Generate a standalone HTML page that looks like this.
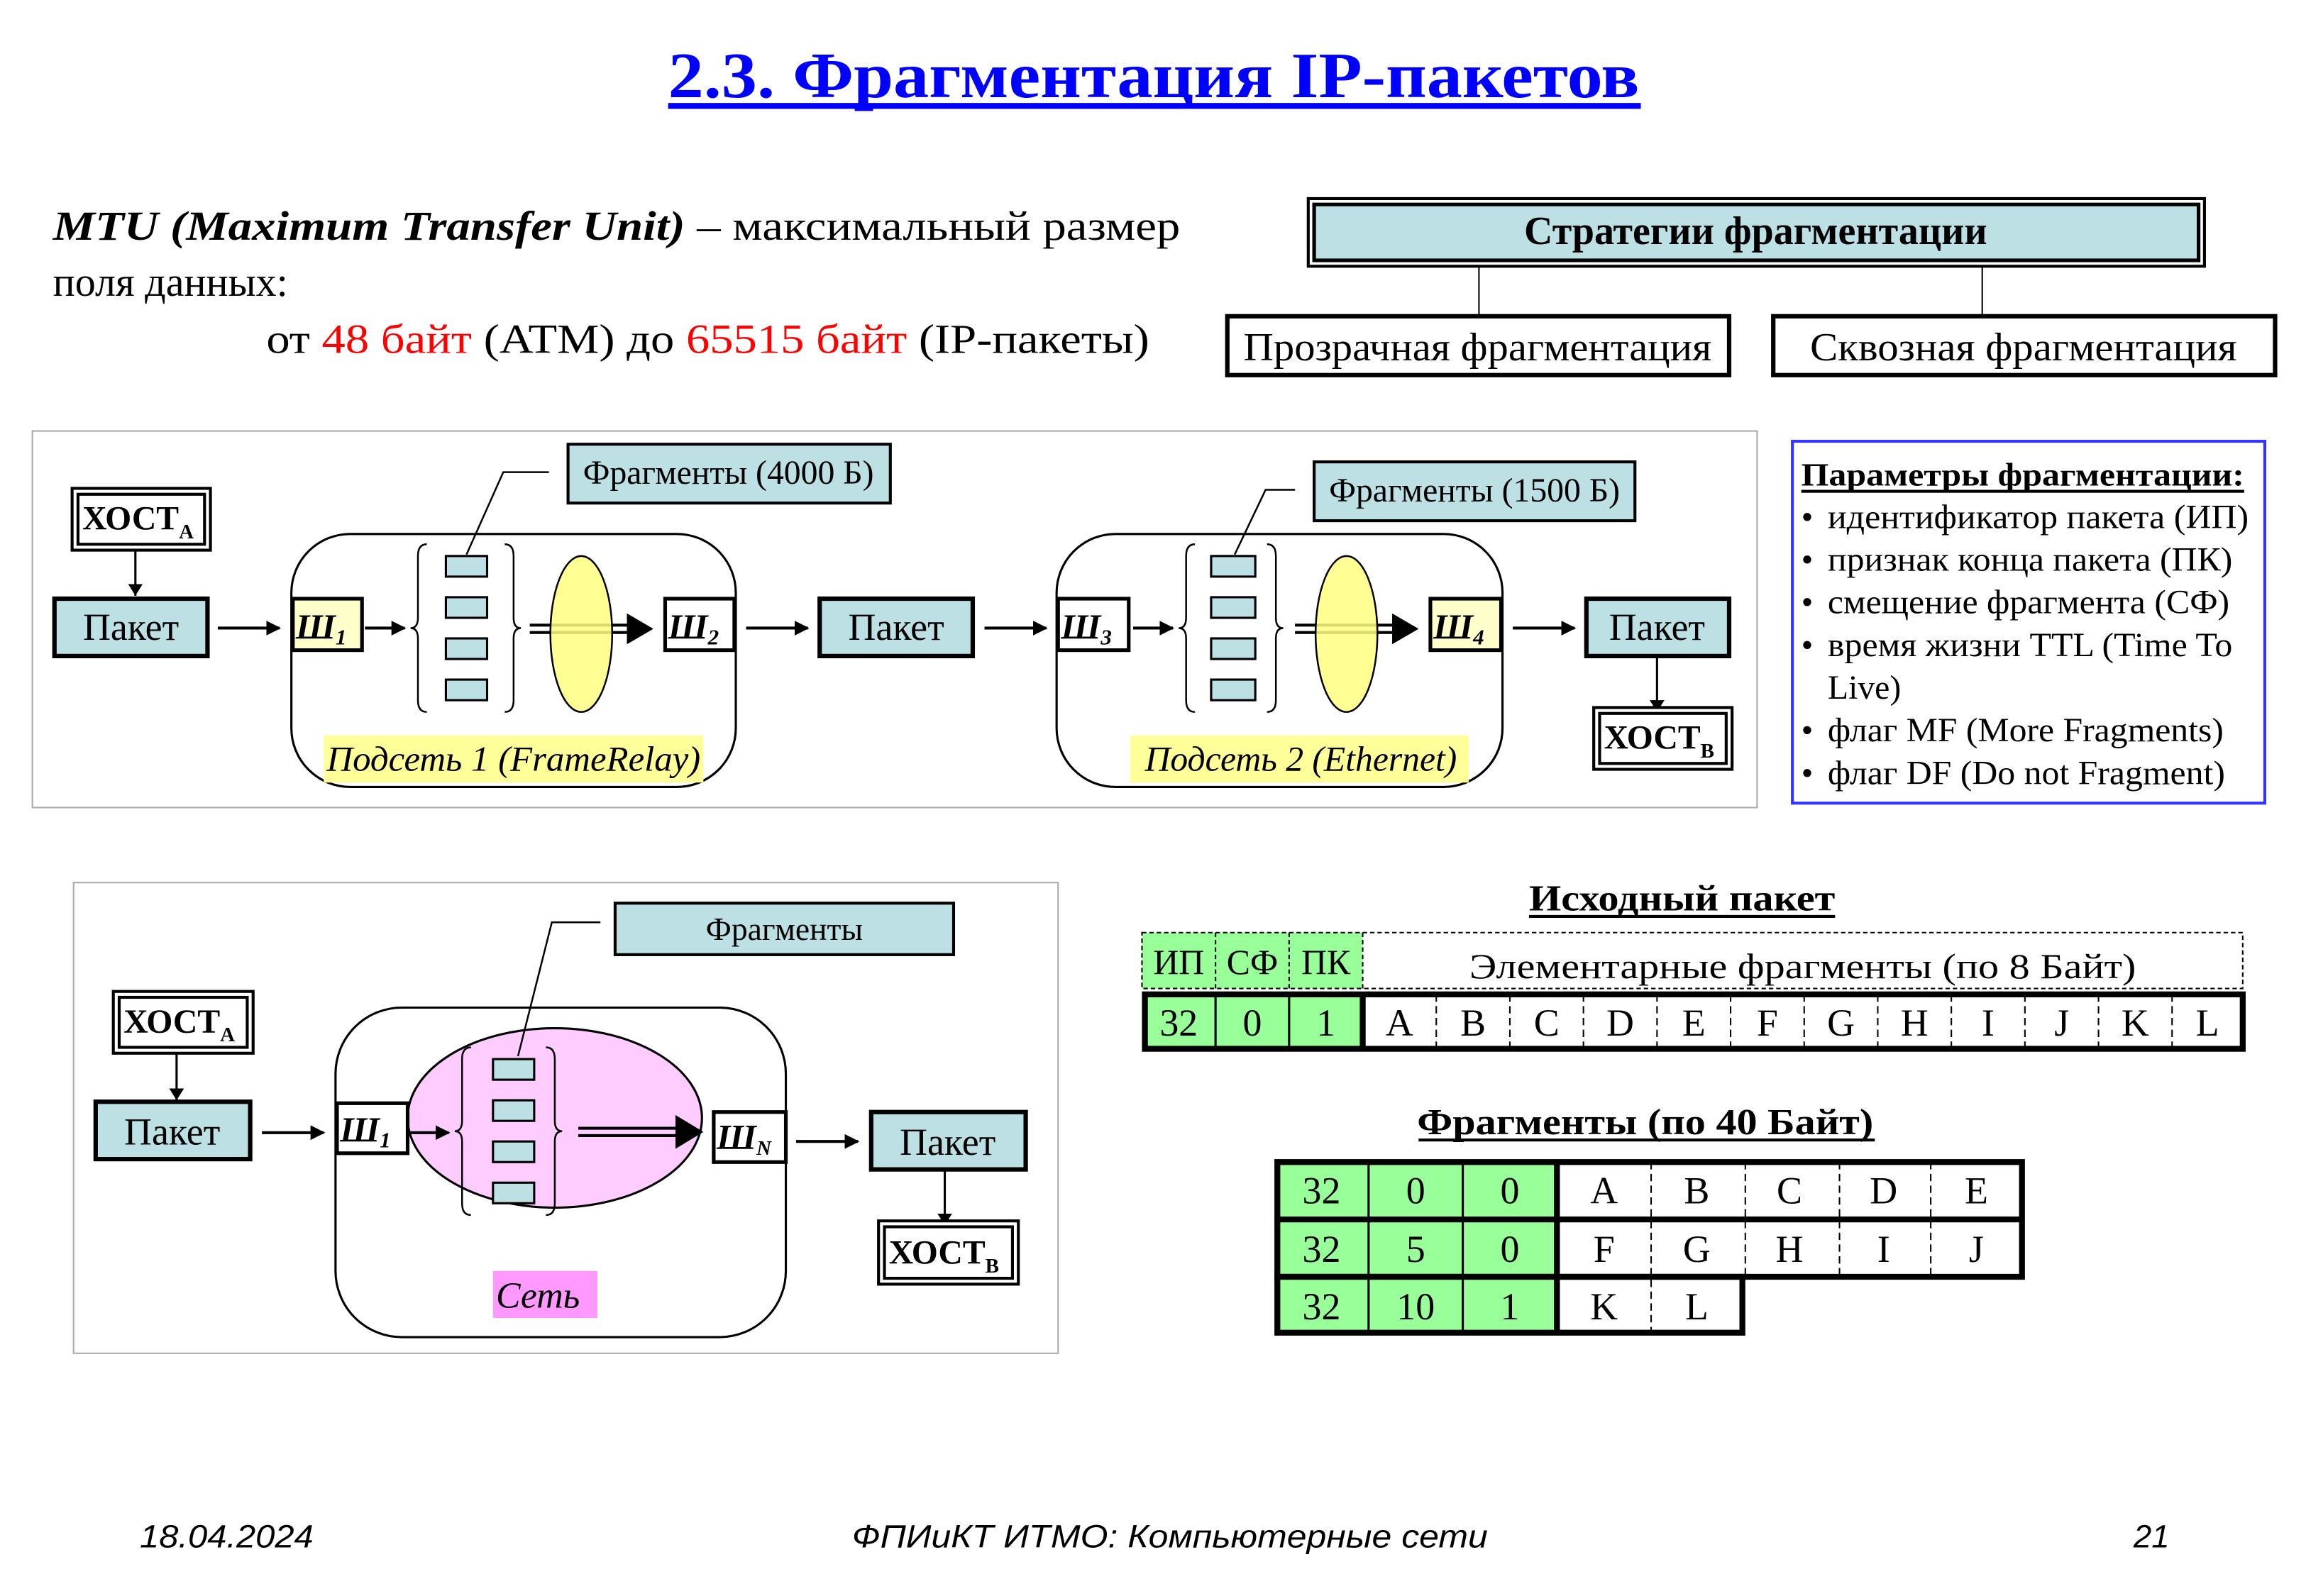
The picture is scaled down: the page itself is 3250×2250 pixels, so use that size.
<!DOCTYPE html>
<html><head><meta charset="utf-8"><style>
html,body{margin:0;padding:0;background:#fff;}
svg{display:block;}
text{font-family:"Liberation Serif","DejaVu Serif",serif;}
</style></head><body>
<svg xmlns="http://www.w3.org/2000/svg" width="3250" height="2250" viewBox="0 0 1567 1085" preserveAspectRatio="none">
<defs>
<marker id="ah" markerWidth="10" markerHeight="10" refX="9" refY="5" orient="auto" markerUnits="userSpaceOnUse"><path d="M0,0 L10,5 L0,10 z" fill="#000"/></marker>
<marker id="ahs" markerWidth="8" markerHeight="10" refX="8" refY="5" orient="auto" markerUnits="userSpaceOnUse"><path d="M0,0 L8,5 L0,10 z" fill="#000"/></marker>
</defs>
<rect width="1567" height="1085" fill="#fff"/>

<!-- Title -->
<text x="784" y="66" font-size="44" font-weight="bold" fill="#0000ff" text-anchor="middle" textLength="660" lengthAdjust="spacingAndGlyphs">2.3. Фрагментация IP-пакетов</text>
<rect x="454" y="70" width="661" height="4" fill="#0000ff"/>

<!-- MTU text -->
<text x="36" y="163" font-size="28" textLength="766" lengthAdjust="spacingAndGlyphs"><tspan font-weight="bold" font-style="italic">MTU (Maximum Transfer Unit)</tspan> – максимальный размер</text>
<text x="36" y="201" font-size="28">поля данных:</text>
<text x="181" y="240" font-size="28" textLength="600" lengthAdjust="spacingAndGlyphs">от <tspan fill="#ff0000">48 байт</tspan> (ATM) до <tspan fill="#ff0000">65515 байт</tspan> (IP-пакеты)</text>

<!-- Strategies -->
<rect x="889" y="135" width="609" height="46" fill="#fff" stroke="#000" stroke-width="2"/>
<rect x="893" y="139" width="601" height="38" fill="#bce0e3" stroke="#000" stroke-width="2.5"/>
<text x="1193" y="166" font-size="27" font-weight="bold" text-anchor="middle">Стратегии фрагментации</text>
<line x1="1005" y1="181" x2="1005" y2="214" stroke="#000" stroke-width="1"/>
<line x1="1347" y1="181" x2="1347" y2="214" stroke="#000" stroke-width="1"/>
<rect x="834" y="215" width="341" height="40" fill="#fff" stroke="#000" stroke-width="3"/>
<text x="1004" y="245" font-size="27" text-anchor="middle" textLength="318" lengthAdjust="spacingAndGlyphs">Прозрачная фрагментация</text>
<rect x="1205" y="215" width="341" height="40" fill="#fff" stroke="#000" stroke-width="3"/>
<text x="1375" y="245" font-size="27" text-anchor="middle" textLength="290" lengthAdjust="spacingAndGlyphs">Сквозная фрагментация</text>

<!-- Top diagram frame -->
<rect x="22" y="293" width="1172" height="256" fill="none" stroke="#aaa" stroke-width="1"/>

<!-- HOST A -->
<rect x="49" y="332" width="94" height="42" fill="#fff" stroke="#000" stroke-width="2"/>
<rect x="53" y="336" width="86" height="34" fill="none" stroke="#000" stroke-width="2"/>
<text x="56" y="360" font-size="23" font-weight="bold">ХОСТ<tspan font-size="14" dy="6">A</tspan></text>
<line x1="92" y1="374" x2="92" y2="405" stroke="#000" stroke-width="1.5" marker-end="url(#ahs)"/>
<rect x="37" y="407" width="104" height="39" fill="#bce0e3" stroke="#000" stroke-width="3"/>
<text x="89" y="435" font-size="26" text-anchor="middle">Пакет</text>
<line x1="148" y1="427" x2="190" y2="427" stroke="#000" stroke-width="2" marker-end="url(#ah)"/>

<!-- Subnet 1 -->
<rect x="198" y="363" width="302" height="172" rx="40" fill="none" stroke="#000" stroke-width="1.5"/>
<rect x="199" y="407" width="47" height="35" fill="#ffffcc" stroke="#000" stroke-width="2.5"/>
<text x="201" y="434" font-size="24" font-weight="bold" font-style="italic">Ш<tspan font-size="15" dy="4">1</tspan></text>
<line x1="248" y1="427" x2="275" y2="427" stroke="#000" stroke-width="2" marker-end="url(#ah)"/>
<path d="M290,370 Q284,370 284,378 L284,420 Q284,427 279,427 Q284,427 284,434 L284,476 Q284,484 290,484" fill="none" stroke="#000" stroke-width="1.2"/>
<path d="M343,370 Q349,370 349,378 L349,420 Q349,427 354,427 Q349,427 349,434 L349,476 Q349,484 343,484" fill="none" stroke="#000" stroke-width="1.2"/>
<rect x="303" y="378" width="28" height="14" fill="#bce0e3" stroke="#000" stroke-width="1.5"/>
<rect x="303" y="406" width="28" height="14" fill="#bce0e3" stroke="#000" stroke-width="1.5"/>
<rect x="303" y="434" width="28" height="14" fill="#bce0e3" stroke="#000" stroke-width="1.5"/>
<rect x="303" y="462" width="28" height="14" fill="#bce0e3" stroke="#000" stroke-width="1.5"/>
<line x1="360" y1="425" x2="430" y2="425" stroke="#000" stroke-width="2"/>
<line x1="360" y1="430" x2="430" y2="430" stroke="#000" stroke-width="2"/>
<path d="M426,417 L444,427.5 L426,438 z" fill="#000"/>
<ellipse cx="395" cy="431" rx="21" ry="53" fill="#ffff80" fill-opacity="0.85" stroke="#000" stroke-width="1.2"/>
<rect x="452" y="407" width="47" height="35" fill="#fff" stroke="#000" stroke-width="2.5"/>
<text x="454" y="434" font-size="24" font-weight="bold" font-style="italic">Ш<tspan font-size="15" dy="4">2</tspan></text>
<rect x="220" y="500" width="258" height="32" fill="#ffff99"/>
<text x="222" y="524" font-size="24" font-style="italic" textLength="254" lengthAdjust="spacingAndGlyphs">Подсеть 1  (FrameRelay)</text>
<rect x="386" y="302" width="219" height="40" fill="#bce0e3" stroke="#000" stroke-width="2"/>
<text x="495" y="329" font-size="23" text-anchor="middle">Фрагменты (4000 Б)</text>
<polyline points="373,321 342,321 317,377" fill="none" stroke="#000" stroke-width="1.2"/>

<line x1="507" y1="427" x2="549" y2="427" stroke="#000" stroke-width="2" marker-end="url(#ah)"/>
<rect x="557" y="407" width="104" height="39" fill="#bce0e3" stroke="#000" stroke-width="3"/>
<text x="609" y="435" font-size="26" text-anchor="middle">Пакет</text>
<line x1="669" y1="427" x2="711" y2="427" stroke="#000" stroke-width="2" marker-end="url(#ah)"/>

<!-- Subnet 2 -->
<rect x="718" y="363" width="303" height="172" rx="40" fill="none" stroke="#000" stroke-width="1.5"/>
<rect x="719" y="407" width="48" height="35" fill="#fff" stroke="#000" stroke-width="2.5"/>
<text x="721" y="434" font-size="24" font-weight="bold" font-style="italic">Ш<tspan font-size="15" dy="4">3</tspan></text>
<line x1="770" y1="427" x2="797" y2="427" stroke="#000" stroke-width="2" marker-end="url(#ah)"/>
<path d="M812,370 Q806,370 806,378 L806,420 Q806,427 801,427 Q806,427 806,434 L806,476 Q806,484 812,484" fill="none" stroke="#000" stroke-width="1.2"/>
<path d="M861,370 Q867,370 867,378 L867,420 Q867,427 872,427 Q867,427 867,434 L867,476 Q867,484 861,484" fill="none" stroke="#000" stroke-width="1.2"/>
<rect x="823" y="378" width="30" height="14" fill="#bce0e3" stroke="#000" stroke-width="1.5"/>
<rect x="823" y="406" width="30" height="14" fill="#bce0e3" stroke="#000" stroke-width="1.5"/>
<rect x="823" y="434" width="30" height="14" fill="#bce0e3" stroke="#000" stroke-width="1.5"/>
<rect x="823" y="462" width="30" height="14" fill="#bce0e3" stroke="#000" stroke-width="1.5"/>
<line x1="880" y1="425" x2="950" y2="425" stroke="#000" stroke-width="2"/>
<line x1="880" y1="430" x2="950" y2="430" stroke="#000" stroke-width="2"/>
<path d="M946,417 L964,427.5 L946,438 z" fill="#000"/>
<ellipse cx="915" cy="431" rx="21" ry="53" fill="#ffff80" fill-opacity="0.85" stroke="#000" stroke-width="1.2"/>
<rect x="972" y="407" width="48" height="35" fill="#ffffcc" stroke="#000" stroke-width="2.5"/>
<text x="974" y="434" font-size="24" font-weight="bold" font-style="italic">Ш<tspan font-size="15" dy="4">4</tspan></text>
<rect x="768" y="500" width="230" height="32" fill="#ffff99"/>
<text x="778" y="524" font-size="24" font-style="italic" textLength="212" lengthAdjust="spacingAndGlyphs">Подсеть 2 (Ethernet)</text>
<rect x="893" y="314" width="218" height="40" fill="#bce0e3" stroke="#000" stroke-width="2"/>
<text x="1002" y="341" font-size="23" text-anchor="middle">Фрагменты (1500 Б)</text>
<polyline points="880,333 860,333 839,377" fill="none" stroke="#000" stroke-width="1.2"/>

<line x1="1028" y1="427" x2="1070" y2="427" stroke="#000" stroke-width="2" marker-end="url(#ah)"/>
<rect x="1078" y="407" width="97" height="39" fill="#bce0e3" stroke="#000" stroke-width="3"/>
<text x="1126" y="435" font-size="26" text-anchor="middle">Пакет</text>
<line x1="1126" y1="447" x2="1126" y2="484" stroke="#000" stroke-width="1.5" marker-end="url(#ahs)"/>
<rect x="1083" y="481" width="94" height="42" fill="#fff" stroke="#000" stroke-width="2"/>
<rect x="1087" y="485" width="86" height="34" fill="none" stroke="#000" stroke-width="2"/>
<text x="1090" y="509" font-size="23" font-weight="bold">ХОСТ<tspan font-size="14" dy="6">B</tspan></text>

<!-- Params -->
<rect x="1218" y="300" width="321" height="246" fill="#fff" stroke="#3333ff" stroke-width="2"/>
<text x="1224" y="330" font-size="22" font-weight="bold" textLength="301" lengthAdjust="spacingAndGlyphs">Параметры фрагментации:</text>
<rect x="1224" y="333" width="301" height="2" fill="#000"/>
<g font-size="23">
<text x="1224" y="359">•</text><text x="1242" y="359" textLength="286" lengthAdjust="spacingAndGlyphs">идентификатор пакета (ИП)</text>
<text x="1224" y="388">•</text><text x="1242" y="388" textLength="275" lengthAdjust="spacingAndGlyphs">признак конца пакета (ПК)</text>
<text x="1224" y="417">•</text><text x="1242" y="417" textLength="273" lengthAdjust="spacingAndGlyphs">смещение фрагмента (СФ)</text>
<text x="1224" y="446">•</text><text x="1242" y="446" textLength="275" lengthAdjust="spacingAndGlyphs">время жизни TTL (Time To</text>
<text x="1242" y="475">Live)</text>
<text x="1224" y="504">•</text><text x="1242" y="504" textLength="269" lengthAdjust="spacingAndGlyphs">флаг MF (More Fragments)</text>
<text x="1224" y="533">•</text><text x="1242" y="533" textLength="270" lengthAdjust="spacingAndGlyphs">флаг DF (Do not Fragment)</text>
</g>

<!-- Bottom diagram -->
<rect x="50" y="600" width="669" height="320" fill="none" stroke="#aaa" stroke-width="1"/>
<rect x="77" y="674" width="95" height="42" fill="#fff" stroke="#000" stroke-width="2"/>
<rect x="81" y="678" width="87" height="34" fill="none" stroke="#000" stroke-width="2"/>
<text x="84" y="702" font-size="23" font-weight="bold">ХОСТ<tspan font-size="14" dy="6">A</tspan></text>
<line x1="120" y1="716" x2="120" y2="748" stroke="#000" stroke-width="1.5" marker-end="url(#ahs)"/>
<rect x="65" y="749" width="105" height="39" fill="#bce0e3" stroke="#000" stroke-width="3"/>
<text x="117" y="778" font-size="26" text-anchor="middle">Пакет</text>
<line x1="178" y1="770" x2="220" y2="770" stroke="#000" stroke-width="2" marker-end="url(#ah)"/>
<rect x="228" y="685" width="306" height="224" rx="45" fill="none" stroke="#000" stroke-width="1.5"/>
<ellipse cx="377" cy="760" rx="100" ry="61" fill="#ffccff" stroke="#000" stroke-width="1.5"/>
<rect x="229" y="750" width="48" height="34" fill="#fff" stroke="#000" stroke-width="2.5"/>
<text x="231" y="776" font-size="24" font-weight="bold" font-style="italic">Ш<tspan font-size="15" dy="4">1</tspan></text>
<line x1="279" y1="770" x2="305" y2="770" stroke="#000" stroke-width="2" marker-end="url(#ah)"/>
<path d="M320,712 Q314,712 314,720 L314,762 Q314,769 309,769 Q314,769 314,776 L314,818 Q314,826 320,826" fill="none" stroke="#000" stroke-width="1.2"/>
<path d="M371,712 Q377,712 377,720 L377,762 Q377,769 382,769 Q377,769 377,776 L377,818 Q377,826 371,826" fill="none" stroke="#000" stroke-width="1.2"/>
<rect x="335" y="720" width="28" height="14" fill="#bce0e3" stroke="#000" stroke-width="1.5"/>
<rect x="335" y="748" width="28" height="14" fill="#bce0e3" stroke="#000" stroke-width="1.5"/>
<rect x="335" y="776" width="28" height="14" fill="#bce0e3" stroke="#000" stroke-width="1.5"/>
<rect x="335" y="804" width="28" height="14" fill="#bce0e3" stroke="#000" stroke-width="1.5"/>
<line x1="393" y1="767" x2="463" y2="767" stroke="#000" stroke-width="2"/>
<line x1="393" y1="772" x2="463" y2="772" stroke="#000" stroke-width="2"/>
<path d="M459,758 L478,769.5 L459,781 z" fill="#000"/>
<rect x="485" y="756" width="49" height="34" fill="#fff" stroke="#000" stroke-width="2.5"/>
<text x="487" y="781" font-size="24" font-weight="bold" font-style="italic">Ш<tspan font-size="14" dy="4">N</tspan></text>
<line x1="541" y1="776" x2="583" y2="776" stroke="#000" stroke-width="2" marker-end="url(#ah)"/>
<rect x="592" y="756" width="105" height="39" fill="#bce0e3" stroke="#000" stroke-width="3"/>
<text x="644" y="785" font-size="26" text-anchor="middle">Пакет</text>
<line x1="642" y1="796" x2="642" y2="833" stroke="#000" stroke-width="1.5" marker-end="url(#ahs)"/>
<rect x="597" y="830" width="95" height="43" fill="#fff" stroke="#000" stroke-width="2"/>
<rect x="601" y="834" width="87" height="35" fill="none" stroke="#000" stroke-width="2"/>
<text x="604" y="859" font-size="23" font-weight="bold">ХОСТ<tspan font-size="14" dy="6">B</tspan></text>
<rect x="418" y="614" width="230" height="35" fill="#bce0e3" stroke="#000" stroke-width="2"/>
<text x="533" y="639" font-size="22" text-anchor="middle">Фрагменты</text>
<polyline points="408,627 375,627 352,718" fill="none" stroke="#000" stroke-width="1.2"/>
<rect x="335" y="864" width="71" height="32" fill="#ff99ff"/>
<text x="337" y="889" font-size="25" font-style="italic">Сеть</text>

<!-- Исходный пакет -->
<text x="1143" y="619" font-size="25" font-weight="bold" text-anchor="middle" textLength="208" lengthAdjust="spacingAndGlyphs">Исходный пакет</text>
<rect x="1039" y="622" width="208" height="2" fill="#000"/>
<rect x="776" y="634" width="150" height="38" fill="#99ff99"/>
<rect x="776" y="634" width="748" height="38" fill="none" stroke="#000" stroke-width="1" stroke-dasharray="3,2"/>
<line x1="826" y1="634" x2="826" y2="672" stroke="#000" stroke-dasharray="3,2"/>
<line x1="876" y1="634" x2="876" y2="672" stroke="#000" stroke-dasharray="3,2"/>
<line x1="926" y1="634" x2="926" y2="672" stroke="#000" stroke-dasharray="3,2"/>
<g font-size="24" text-anchor="middle">
<text x="801" y="662">ИП</text><text x="851" y="662">СФ</text><text x="901" y="662">ПК</text>
<text x="1225" y="665" textLength="453" lengthAdjust="spacingAndGlyphs">Элементарные фрагменты (по 8 Байт)</text>
</g>
<rect x="778" y="676" width="148" height="37" fill="#99ff99"/>
<rect x="778" y="676" width="746" height="37" fill="none" stroke="#000" stroke-width="4"/>
<line x1="826" y1="676" x2="826" y2="713" stroke="#000" stroke-width="1.5"/>
<line x1="876" y1="676" x2="876" y2="713" stroke="#000" stroke-width="1.5"/>
<line x1="926" y1="676" x2="926" y2="713" stroke="#000" stroke-width="4"/>
<g stroke="#000" stroke-width="1" stroke-dasharray="5,3">
<line x1="976" y1="676" x2="976" y2="713"/><line x1="1026" y1="676" x2="1026" y2="713"/><line x1="1076" y1="676" x2="1076" y2="713"/><line x1="1126" y1="676" x2="1126" y2="713"/><line x1="1176" y1="676" x2="1176" y2="713"/><line x1="1226" y1="676" x2="1226" y2="713"/><line x1="1276" y1="676" x2="1276" y2="713"/><line x1="1326" y1="676" x2="1326" y2="713"/><line x1="1376" y1="676" x2="1376" y2="713"/><line x1="1426" y1="676" x2="1426" y2="713"/><line x1="1476" y1="676" x2="1476" y2="713"/>
</g>
<g font-size="26" text-anchor="middle">
<text x="801" y="704">32</text><text x="851" y="704">0</text><text x="901" y="704">1</text>
<text x="951" y="704">A</text><text x="1001" y="704">B</text><text x="1051" y="704">C</text><text x="1101" y="704">D</text><text x="1151" y="704">E</text><text x="1201" y="704">F</text><text x="1251" y="704">G</text><text x="1301" y="704">H</text><text x="1351" y="704">I</text><text x="1401" y="704">J</text><text x="1451" y="704">K</text><text x="1500" y="704">L</text>
</g>

<!-- Фрагменты -->
<text x="1118" y="771" font-size="25" font-weight="bold" text-anchor="middle" textLength="310" lengthAdjust="spacingAndGlyphs">Фрагменты (по 40 Байт)</text>
<rect x="964" y="774" width="310" height="2" fill="#000"/>
<rect x="868" y="790" width="190" height="116" fill="#99ff99"/>
<rect x="868" y="790" width="506" height="78" fill="none" stroke="#000" stroke-width="4"/>
<rect x="868" y="868" width="316" height="38" fill="none" stroke="#000" stroke-width="4"/>
<line x1="868" y1="829" x2="1374" y2="829" stroke="#000" stroke-width="4"/>
<g stroke="#000" stroke-width="1.5">
<line x1="930" y1="790" x2="930" y2="906"/><line x1="994" y1="790" x2="994" y2="906"/>
</g>
<line x1="1058" y1="790" x2="1058" y2="906" stroke="#000" stroke-width="4"/>
<g stroke="#000" stroke-width="1" stroke-dasharray="5,3">
<line x1="1122" y1="790" x2="1122" y2="906"/><line x1="1186" y1="790" x2="1186" y2="868"/><line x1="1250" y1="790" x2="1250" y2="868"/><line x1="1312" y1="790" x2="1312" y2="868"/>
</g>
<g font-size="26" text-anchor="middle">
<text x="898" y="818">32</text><text x="962" y="818">0</text><text x="1026" y="818">0</text>
<text x="1090" y="818">A</text><text x="1153" y="818">B</text><text x="1216" y="818">C</text><text x="1280" y="818">D</text><text x="1343" y="818">E</text>
<text x="898" y="858">32</text><text x="962" y="858">5</text><text x="1026" y="858">0</text>
<text x="1090" y="858">F</text><text x="1153" y="858">G</text><text x="1216" y="858">H</text><text x="1280" y="858">I</text><text x="1343" y="858">J</text>
<text x="898" y="897">32</text><text x="962" y="897">10</text><text x="1026" y="897">1</text>
<text x="1090" y="897">K</text><text x="1153" y="897">L</text>
</g>

<!-- Footer -->
<g font-style="italic" font-size="22">
<text x="95" y="1052" style="font-family:'Liberation Sans',sans-serif" textLength="118" lengthAdjust="spacingAndGlyphs">18.04.2024</text>
<text x="795" y="1052" text-anchor="middle" style="font-family:'Liberation Sans',sans-serif" textLength="432" lengthAdjust="spacingAndGlyphs">ФПИиКТ ИТМО: Компьютерные сети</text>
<text x="1462" y="1052" text-anchor="middle" style="font-family:'Liberation Sans',sans-serif">21</text>
</g>
</svg>
</body></html>
